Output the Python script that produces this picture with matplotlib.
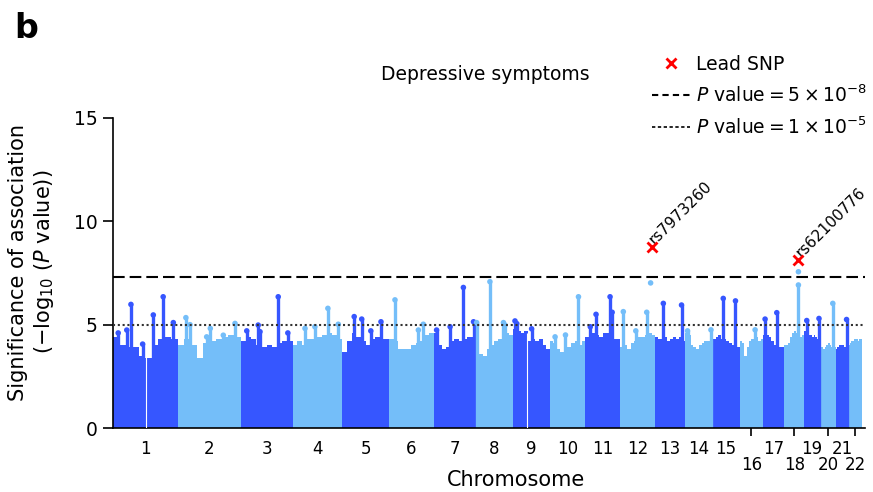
import numpy as np
import matplotlib.pyplot as plt
from matplotlib.lines import Line2D

#Chromosome sizes (Mb)
chroms = [str(i) for i in range(1, 23)]
chrom_len = [249.3, 243.2, 198.0, 191.2, 180.9, 171.1, 159.1, 146.4, 141.2, 135.5, 135.0,
             133.9, 115.2, 107.3, 102.5, 90.4, 81.2, 78.1, 59.1, 63.0, 48.1, 51.3]

#Upper edge of the dense -log10(P) cloud, ten bins per chromosome
envelope = [
    [4.4, 4.0, 3.9, 3.9, 3.5, 3.4, 4.0, 4.3, 4.4, 4.3],
    [4.0, 4.3, 4.0, 3.4, 4.1, 4.2, 4.3, 4.4, 4.5, 4.4],
    [4.2, 4.4, 4.3, 4.0, 3.9, 4.0, 3.9, 4.1, 4.2, 4.2],
    [4.0, 4.2, 4.0, 4.3, 4.3, 4.4, 4.5, 4.6, 4.5, 4.3],
    [3.7, 4.2, 4.6, 4.4, 4.2, 4.0, 4.3, 4.4, 4.3, 4.3],
    [4.3, 4.2, 3.8, 3.8, 3.8, 4.0, 4.1, 4.2, 4.5, 4.6],
    [4.6, 4.0, 3.8, 3.9, 4.2, 4.3, 4.2, 4.3, 4.4, 4.4],
    [4.3, 3.6, 3.5, 3.8, 4.0, 4.2, 4.3, 4.5, 4.6, 4.5],
    [4.8, 4.7, 4.6, 4.7, 4.2, 4.3, 4.2, 4.3, 4.0, 3.8],
    [4.2, 4.1, 3.8, 3.7, 3.7, 3.9, 4.1, 4.2, 4.0, 4.2],
    [4.4, 4.5, 4.6, 4.5, 4.4, 4.6, 4.6, 4.5, 4.3, 4.3],
    [3.9, 4.0, 3.8, 4.1, 4.2, 4.4, 4.4, 4.5, 4.6, 4.5],
    [4.4, 4.3, 4.3, 4.4, 4.2, 4.3, 4.4, 4.3, 4.4, 4.2],
    [4.6, 4.5, 4.0, 3.9, 3.8, 4.0, 4.1, 4.2, 4.2, 4.1],
    [4.3, 4.4, 4.5, 4.3, 4.3, 4.2, 4.1, 4.0, 4.0, 3.9],
    [4.2, 4.1, 3.5, 3.9, 4.2, 4.3, 4.3, 4.4, 4.2, 4.3],
    [4.5, 4.6, 4.5, 4.4, 4.2, 4.0, 3.9, 3.9, 3.9, 3.9],
    [4.0, 4.0, 4.1, 4.4, 4.6, 4.7, 4.6, 4.5, 4.4, 4.5],
    [4.7, 4.6, 4.6, 4.5, 4.5, 4.4, 4.5, 4.4, 4.3, 4.2],
    [4.2, 3.9, 3.8, 3.9, 4.0, 4.1, 4.0, 3.9, 4.0, 3.9],
    [3.8, 3.9, 4.0, 4.0, 4.0, 4.0, 3.9, 3.9, 4.0, 3.8],
    [4.0, 4.1, 4.2, 4.2, 4.3, 4.3, 4.3, 4.2, 4.3, 4.3],
]

#Stacked SNP columns rising above the cloud: chromosome, position (Mb), top value
spike_chr = [1, 1, 1, 1, 1, 1, 1,
             2, 2, 2, 2, 2, 2,
             3, 3, 3, 3, 3,
             4, 4, 4, 4,
             5, 5, 5, 5,
             6, 6, 6,
             7, 7, 7, 7,
             8, 8, 8, 8,
             9, 9, 9,
             10, 10, 10,
             11, 11, 11, 11,
             12, 12, 12,
             13, 13, 14, 14, 15, 15, 16, 17, 17, 18, 19, 19, 20, 21]
spike_pos = [20, 53, 69, 114, 155, 193, 232,
             31, 47, 111, 125, 175, 220,
             22, 66, 73, 143, 180,
             48, 86, 136, 176,
             46, 75, 110, 149,
             22, 112, 131,
             11, 63, 114, 153,
             6, 57, 109, 115,
             7, 14, 71,
             20, 60, 110,
             20, 42, 96, 104,
             12, 60, 102,
             32, 102, 10, 100, 40, 87, 60, 8, 53, 55, 9, 56, 50, 40]
spike_top = [4.6, 4.74, 5.98, 4.06, 5.47, 6.35, 5.1,
             5.34, 5.0, 4.41, 4.82, 4.49, 5.06,
             4.7, 4.98, 4.66, 6.35, 4.6,
             4.82, 4.9, 5.79, 5.02,
             5.39, 5.27, 4.7, 5.14,
             6.2, 4.74, 5.02,
             4.74, 4.9, 6.8, 5.14,
             5.1, 7.08, 5.1, 4.98,
             5.18, 5.05, 4.8,
             4.41, 4.5, 6.35,
             4.9, 5.5, 6.35, 5.6,
             5.63, 4.7, 5.6,
             6.03, 5.95, 4.7, 4.75, 6.27, 6.15, 4.75, 5.27, 5.58, 6.92, 5.2, 5.3, 6.03, 5.25]

#Isolated SNPs
dot_chr = [12, 18]
dot_pos = [117, 55]
dot_val = [7.02, 7.56]

#Lead SNPs
lead_names = ['rs7973260', 'rs62100776']
lead_chr = [12, 18]
lead_pos = [121, 55]
lead_val = [8.74, 8.13]

#Regions without markers (centromere gaps)
gap_chr = [1, 9]
gap_pos = [127, 52]
gap_top = [4.0, 4.6]

gw_p = 5e-8
sugg_p = 1e-5

dark = '#3656ff'
light = '#74bef9'

starts = np.concatenate([[0], np.cumsum(chrom_len)[:-1]])
centers = starts + np.array(chrom_len) / 2
total = float(np.sum(chrom_len))

def cum(c, pos):
    return starts[c - 1] + pos

def col(c):
    return dark if c % 2 == 1 else light

fig = plt.figure(figsize=(8.73, 4.92), dpi=100)
ax = fig.add_axes([113/873, 64/492, 752/873, 310/492])

#dense cloud
for i, L in enumerate(chrom_len):
    edges = np.linspace(starts[i], starts[i] + L, len(envelope[i]) + 1)
    ax.stairs(envelope[i], edges, fill=True, baseline=0, color=col(i + 1), lw=0, zorder=2)

for c, p, t in zip(gap_chr, gap_pos, gap_top):
    ax.vlines(cum(c, p), 0, t, color='white', lw=0.8, zorder=3)

#columns and single points
sx = [cum(c, p) for c, p in zip(spike_chr, spike_pos)]
sc = [col(c) for c in spike_chr]
ax.vlines(sx, 0, spike_top, colors=sc, lw=2.4, zorder=2)
ax.scatter(sx, spike_top, s=16, c=sc, lw=0, zorder=2)
ax.scatter([cum(c, p) for c, p in zip(dot_chr, dot_pos)], dot_val,
           s=16, c=[col(c) for c in dot_chr], lw=0, zorder=2)

#thresholds
ax.axhline(-np.log10(gw_p), color='black', lw=1.5, dashes=(5.6, 2.4), zorder=4)
ax.axhline(-np.log10(sugg_p), color='#333333', lw=1.5, dashes=(1, 1.3), zorder=4)

#lead SNPs
for n, c, p, v in zip(lead_names, lead_chr, lead_pos, lead_val):
    x = cum(c, p)
    ax.plot(x, v, 'x', color='red', ms=6.5, mew=2, zorder=5)
    ax.annotate(n, (x, v), xytext=(4, 0), textcoords='offset points', rotation=45,
                rotation_mode='anchor', ha='left', va='bottom', fontsize=11)

ax.set_xlim(0, total * 1.004)
ax.set_ylim(0, 15)
ax.set_yticks([0, 5, 10, 15])
ax.spines['top'].set_visible(False)
ax.spines['right'].set_visible(False)
ax.spines['left'].set_linewidth(1.2)
ax.spines['bottom'].set_linewidth(1.2)
ax.tick_params(axis='y', length=7.2, width=1.2, pad=4, labelsize=13.5)

ax.set_xticks(centers, labels=chroms)
ax.tick_params(axis='x', length=5.8, width=1.2, pad=2.5, labelsize=12)
for t, name in zip(ax.xaxis.get_major_ticks(), chroms):
    if int(name) >= 16 and int(name) % 2 == 0:
        t.set_pad(14.5)
    else:
        t.tick1line.set_visible(False)

ax.set_ylabel('Significance of association\n(\u2212log$_{10}$ ($\\it{P}$ value))', fontsize=15)
ax.yaxis.set_label_coords(-0.076, 0.535)
ax.set_xlabel('Chromosome', fontsize=15)
ax.xaxis.set_label_coords((516 - 113) / 752, -0.136)

fig.text(0.016, 0.976, 'b', fontsize=24, fontweight='bold', va='top')
fig.text(485/873, 1 - 75/492, 'Depressive symptoms', ha='center', va='center', fontsize=13.5)

handles = [Line2D([], [], ls='none', marker='x', color='red', ms=6.5, mew=2),
           Line2D([], [], color='black', lw=1.5, dashes=(3, 2)),
           Line2D([], [], color='black', lw=1.2, dashes=(2, 1.5))]
labels = ['Lead SNP',
          '$\\it{P}$ value\u2009=\u20095\u2009\u00d7\u200910$^{\u22128}$',
          '$\\it{P}$ value\u2009=\u20091\u2009\u00d7\u200910$^{\u22125}$']
ax.legend(handles, labels, loc='upper left', bbox_to_anchor=(652/873, 1 - 55/492),
          bbox_transform=fig.transFigure, frameon=False, fontsize=13.5, borderpad=0,
          borderaxespad=0, handlelength=2.0, handletextpad=0.35, labelspacing=0.55)

fig.savefig('out.png', dpi=100)
